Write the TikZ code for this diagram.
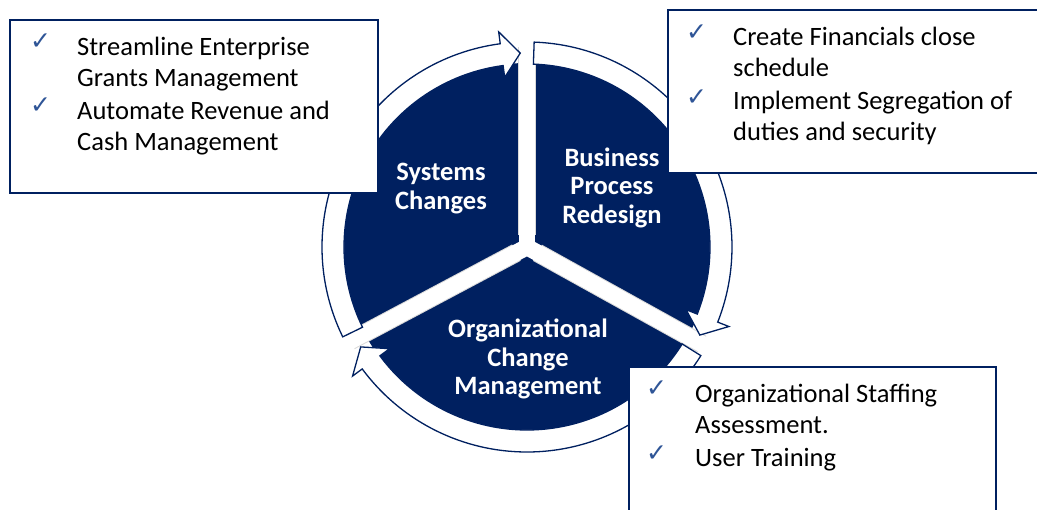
\documentclass[tikz,border=0pt]{standalone}
\usepackage{fontspec}
\setmainfont{Carlito}
\newfontfamily\checkfont{DejaVu Sans}
\usetikzlibrary{positioning}
\definecolor{navy}{HTML}{002060}
\definecolor{tick}{HTML}{2F5597}

\begin{document}
\begin{tikzpicture}[x=1pt,y=1pt,
	listbox/.style={draw=navy,line width=2.5pt,fill=white,outer sep=0pt,inner sep=0pt},
	item/.style={anchor=base west,align=left,inner sep=0pt,font=\fontsize{26.5}{31}\selectfont},
	tickmark/.style={anchor=base west,inner sep=0pt,text=tick,font=\checkfont\fontsize{25}{25}\selectfont},
	phase/.style={anchor=base,align=center,text=white,inner sep=0pt,font=\bfseries\fontsize{26.5}{28.5}\selectfont},
	ringarrow/.style={draw=navy,fill=white,line width=1.3pt,line join=miter}]
	\useasboundingbox (0,0) rectangle (1037,-510);
	\clip (0,0) rectangle (1037,-510);

	% hub and cycle arrows
	\begin{scope}[shift={(527,-247)}]
		\fill[navy] (0,0) circle[radius=184];
		\foreach \gap in {90,-29,208}{
			\draw[black!15,line width=18.5pt] (\gap:12) -- (\gap:200);
			\draw[white,line width=16.5pt,line cap=round] (0,0) -- (\gap:215);
		}
		\foreach \tail/\tip in {206/92,88/-27,-32/-149}{
			\pgfmathsetmacro\neck{\tip+5.5}
			\draw[ringarrow] (\tail:205) arc[start angle=\tail,end angle=\neck,radius=205] -- (\neck:217) -- (\tip:194) -- (\neck:171) -- (\neck:183) arc[start angle=\neck,end angle=\tail,radius=183] -- cycle;
		}
	\end{scope}

	% base anchor sits on the last line
	\node [phase] at (441,-209.5) (sc_label) {Systems\\Changes};
	\node [phase] at (612,-223.5) (bpr_label) {Business\\Process\\Redesign};
	\node [phase] at (528,-395) (ocm_label) {Organizational\\Change\\Management};

	% task lists
	\node [listbox,minimum width=368pt,minimum height=173pt] at (194,-106.5) (sc_box) {};
	\node [tickmark] at (30,-50) (sc_tick1) {✓};
	\node [item] at (77,-87) (sc_item1) {Streamline Enterprise\\Grants Management};
	\node [tickmark] at (30,-114) (sc_tick2) {✓};
	\node [item] at (77,-151) (sc_item2) {Automate Revenue and\\Cash Management};

	\node [listbox,minimum width=377pt,minimum height=163pt] at (856.5,-91.5) (bpr_box) {};
	\node [tickmark] at (686,-41) (bpr_tick1) {✓};
	\node [item] at (733,-77) (bpr_item1) {Create Financials close\\schedule};
	\node [tickmark] at (686,-106) (bpr_tick2) {✓};
	\node [item] at (733,-141) (bpr_item2) {Implement Segregation of\\duties and security};

	\node [listbox,minimum width=367pt,minimum height=153pt] at (812.5,-443.5) (ocm_box) {};
	\node [tickmark] at (646,-397) (ocm_tick1) {✓};
	\node [item] at (695,-434) (ocm_item1) {Organizational Staffing\\Assessment.};
	\node [tickmark] at (646,-462) (ocm_tick2) {✓};
	\node [item] at (695,-467) (ocm_item2) {User Training};
\end{tikzpicture}
\end{document}
